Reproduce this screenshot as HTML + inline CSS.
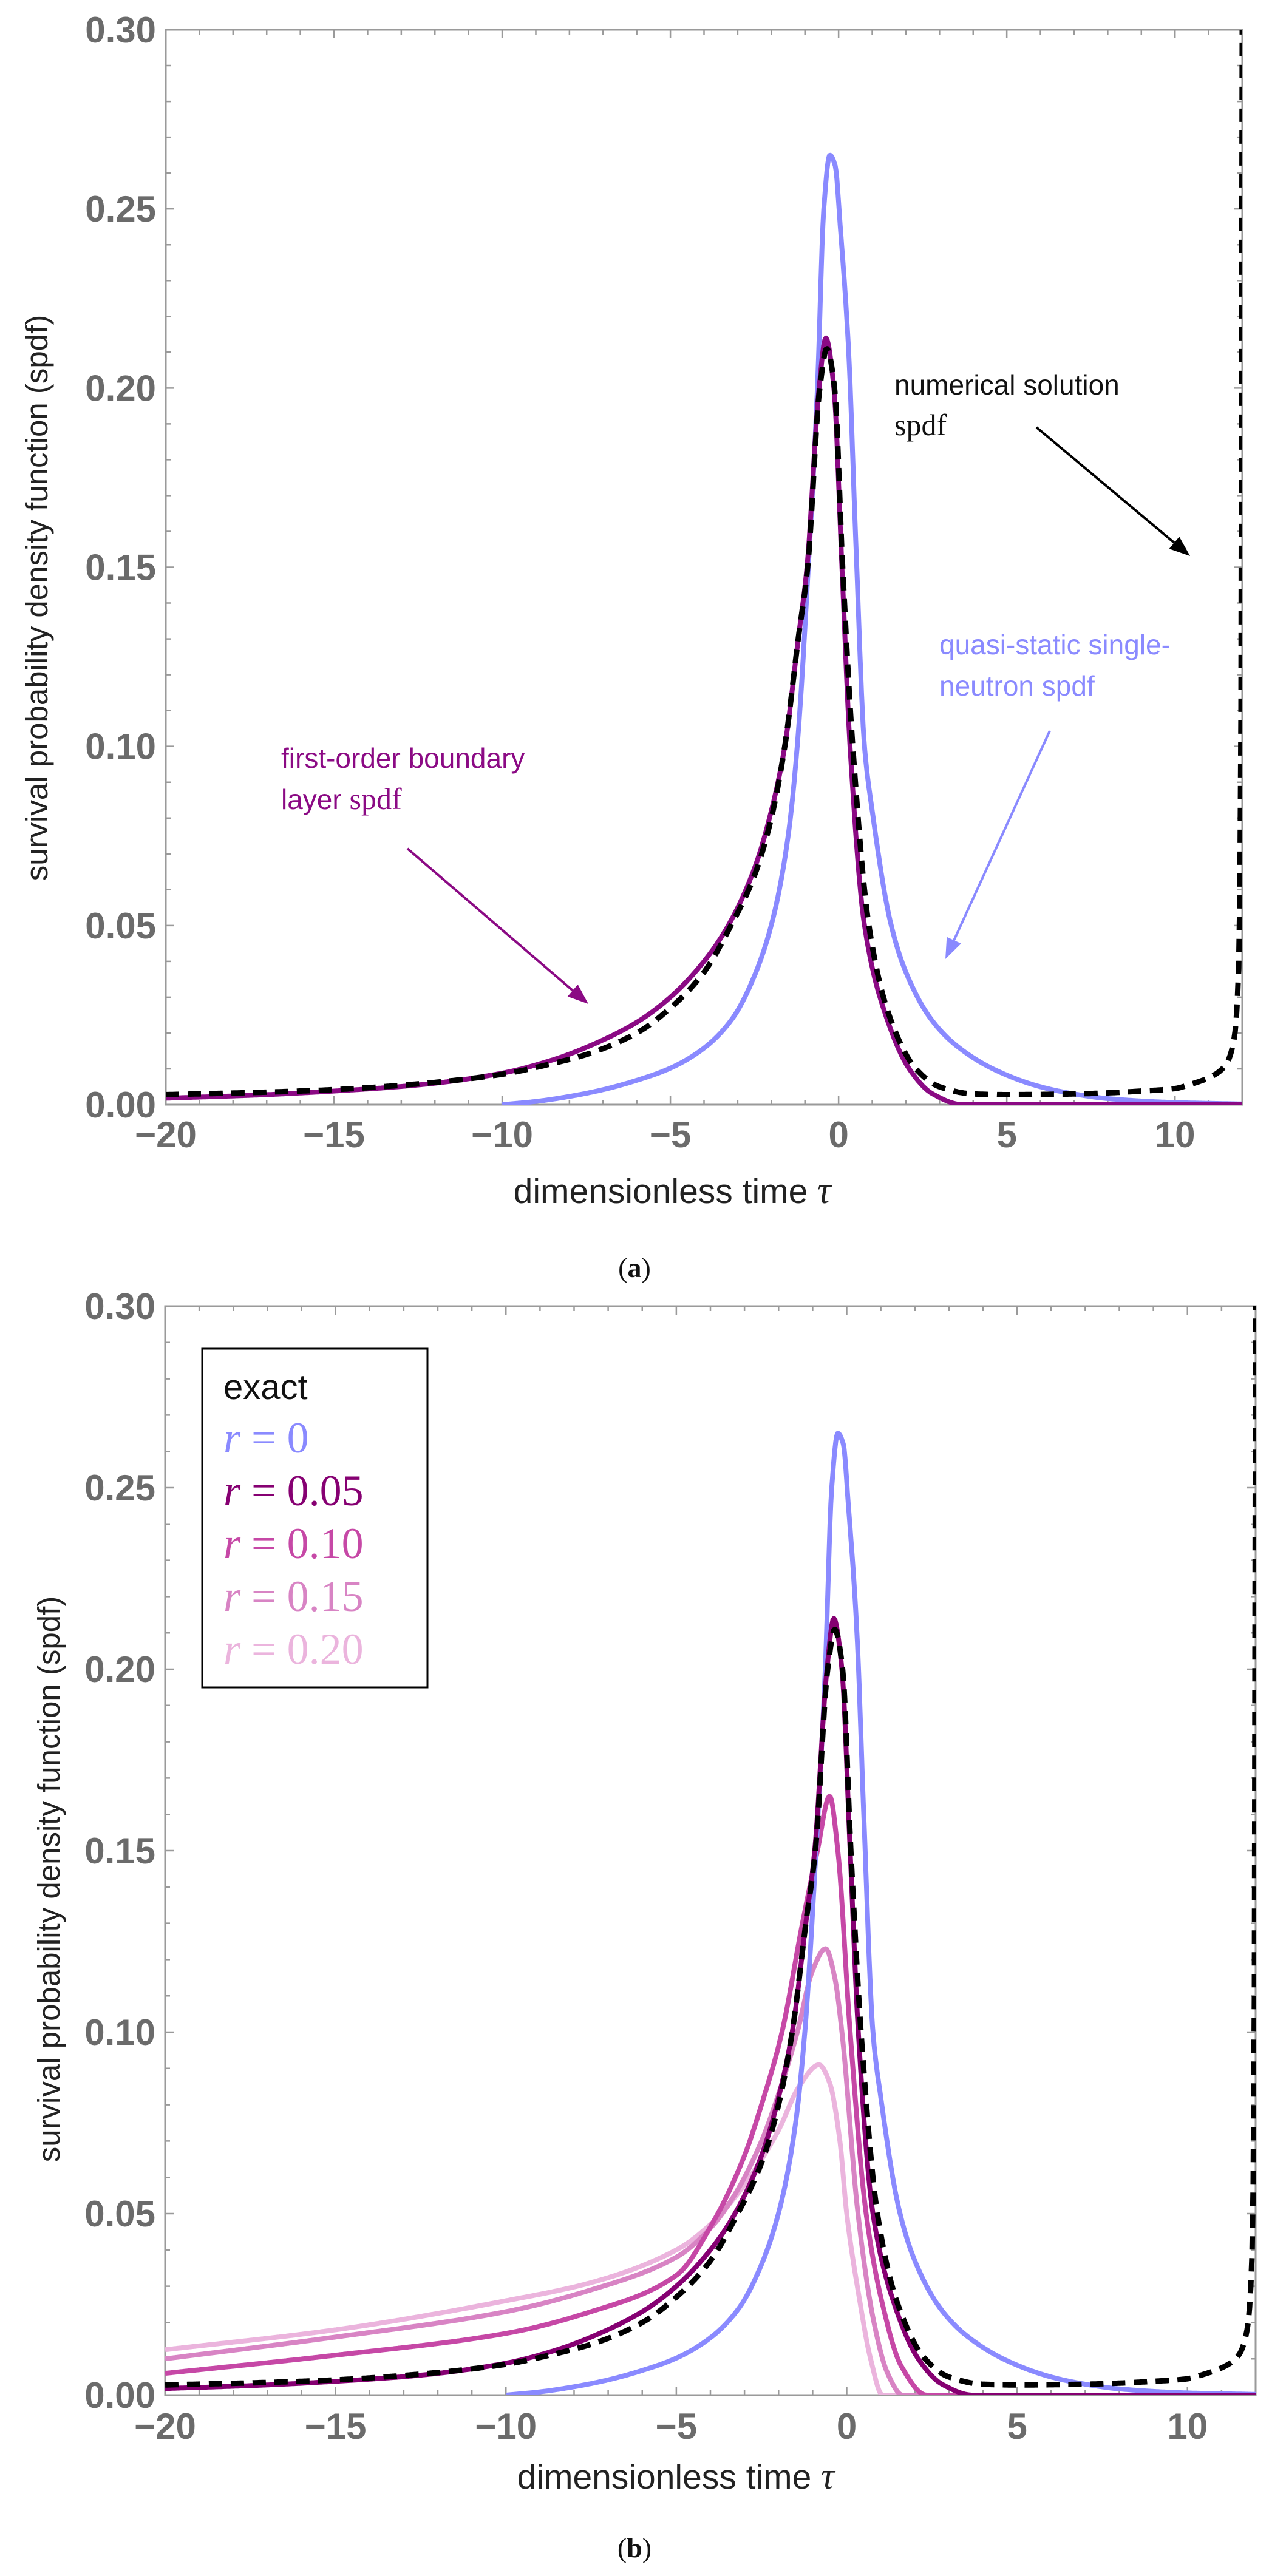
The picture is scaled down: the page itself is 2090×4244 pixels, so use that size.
<!DOCTYPE html>
<html><head><meta charset="utf-8"><style>
html,body{margin:0;padding:0;background:#fff;}
svg{display:block;}
</style></head><body>
<svg id="fig" width="2090" height="4244" viewBox="0 0 2090 4244" xmlns="http://www.w3.org/2000/svg">
<g id="panelA"></g>
<g id="panelB"></g>
</svg>
<script>
const xTicks=[-20,-15,-10,-5,0,5,10];
const yTicks=[0,0.05,0.10,0.15,0.20,0.25,0.30];
const yTickLabels=["0.00","0.05","0.10","0.15","0.20","0.25","0.30"];
const blueX=[-10,-9,-8,-7,-6,-5,-4,-3.16,-2.5,-1.95,-1.5,-1.23,-0.9,-0.63,-0.44,-0.26,-0.1,0.05,0.3,0.5,0.77,1.0,1.54,2,2.74,3.5,4.7,6,7,8,10,12];
const blueY=[0,0.0009,0.0023,0.0042,0.0068,0.0102,0.0158,0.024,0.036,0.052,0.075,0.10,0.15,0.20,0.25,0.265,0.262,0.245,0.21,0.16,0.10,0.082,0.051,0.037,0.024,0.0165,0.0095,0.005,0.003,0.0017,0.0006,0.0002];
const purpleX=[-20,-17,-15,-12.5,-10,-8.5,-7.5,-6,-5,-4,-3.28,-2.5,-2,-1.6,-1.2,-0.94,-0.58,-0.38,-0.14,0.1,0.34,0.77,1.4,2.1,2.8,3.7,6,12];
const purpleY=[0.0018,0.0028,0.0038,0.0055,0.0088,0.0125,0.016,0.023,0.030,0.040,0.05,0.066,0.082,0.10,0.13,0.15,0.20,0.214,0.20,0.15,0.10,0.05,0.025,0.01,0.003,0,0,0];
const blackX=[-20,-17,-15,-12.5,-10,-8.5,-7.5,-6,-5,-4,-3.2,-2.5,-2,-1.6,-1.2,-0.92,-0.56,-0.35,-0.12,0.12,0.42,0.9,1.5,2.3,3,4,5,7,8,9,10,10.5,11,11.5,11.75,11.9,11.96,12];
const blackY=[0.0028,0.0035,0.0042,0.0058,0.0085,0.0115,0.014,0.020,0.027,0.037,0.05,0.064,0.08,0.10,0.13,0.15,0.20,0.211,0.20,0.15,0.10,0.05,0.025,0.01,0.005,0.003,0.0028,0.003,0.0033,0.0038,0.0045,0.0058,0.0075,0.011,0.018,0.04,0.1,0.30];
const r10X=[-20,-15,-10,-7.5,-5,-3.9,-3,-2.5,-1.9,-1.3,-0.86,-0.5,-0.26,0.1,0.57,1.05,1.6,2.35,12];
const r10Y=[0.006,0.011,0.017,0.023,0.033,0.048,0.066,0.08,0.10,0.13,0.15,0.165,0.15,0.10,0.05,0.025,0.008,0,0];
const r15X=[-20,-15,-10,-7.5,-5,-4,-3.3,-2.5,-2,-1.45,-1,-0.62,-0.35,-0.14,0.33,0.8,1.2,1.64,12];
const r15Y=[0.010,0.016,0.023,0.029,0.038,0.046,0.055,0.07,0.083,0.10,0.117,0.123,0.115,0.10,0.05,0.02,0.006,0,0];
const r20X=[-20,-15,-10,-7.5,-5,-4,-3,-2,-1.4,-0.81,-0.5,-0.2,0,0.4,0.7,1.05,12];
const r20Y=[0.0125,0.018,0.026,0.031,0.040,0.047,0.058,0.073,0.085,0.091,0.086,0.07,0.05,0.025,0.01,0,0];

const NS="http://www.w3.org/2000/svg";
function mk(tag,attrs,parent){const e=document.createElementNS(NS,tag);for(const k in attrs)e.setAttribute(k,attrs[k]);if(parent)parent.appendChild(e);return e;}

function monotone(xs,ys){
  const n=xs.length,d=[],m=new Array(n);
  for(let i=0;i<n-1;i++)d.push((ys[i+1]-ys[i])/(xs[i+1]-xs[i]));
  m[0]=d[0];m[n-1]=d[n-2];
  for(let i=1;i<n-1;i++){ if(d[i-1]*d[i]<=0)m[i]=0; else { const w1=2*(xs[i+1]-xs[i])+(xs[i]-xs[i-1]),w2=(xs[i+1]-xs[i])+2*(xs[i]-xs[i-1]); m[i]=(w1+w2)/(w1/d[i-1]+w2/d[i]); } }
  return function(x){
    let i=0;while(i<n-2&&x>xs[i+1])i++;
    const h=xs[i+1]-xs[i],t=(x-xs[i])/h,t2=t*t,t3=t2*t;
    return (2*t3-3*t2+1)*ys[i]+(t3-2*t2+t)*h*m[i]+(-2*t3+3*t2)*ys[i+1]+(t3-t2)*h*m[i+1];
  };
}

function panel(g,P,key){
  const sx=v=>P.L+(v+20)/32*(P.R-P.L);
  const sy=v=>P.B-v/0.30*(P.B-P.T);
  const clipId='clip'+key;
  const defs=mk('defs',{},g);const cp=mk('clipPath',{id:clipId},defs);
  mk('rect',{x:P.L,y:P.T-2,width:P.R-P.L,height:P.B-P.T+2},cp);
  const frame=mk('rect',{x:P.L,y:P.T,width:P.R-P.L,height:P.B-P.T,fill:'none',stroke:'#9a9a9a','stroke-width':3},g);
  
  
  let tp='';
  for(let v=-20;v<=12;v++){const x=sx(v);const len=(v%5===0)?14:8;tp+=`M${x},${P.B}v${-len}M${x},${P.T}v${len}`;}
  for(let k=0;k<=30;k++){const y=sy(k/100);const len=(k%5===0)?14:8;tp+=`M${P.L},${y}h${len}M${P.R},${y}h${-len}`;}
  const ticks=mk('path',{d:tp,stroke:'#9a9a9a','stroke-width':2.5,fill:'none'},g);
  
  
  xTicks.forEach(v=>{const t=mk('text',{x:sx(v),y:P.xl,'text-anchor':'middle','font-family':'Liberation Sans, sans-serif','font-weight':'bold','font-size':60,fill:'#6b6b6b'},g);t.textContent=(v<0?'\u2212'+(-v):''+v);
    
    });
  yTicks.forEach((v,i)=>{const t=mk('text',{x:P.L-16,y:sy(v)+21,'text-anchor':'end','font-family':'Liberation Sans, sans-serif','font-weight':'bold','font-size':60,fill:'#6b6b6b'},g);t.textContent=yTickLabels[i];
    
    });
  const xt=mk('text',{x:P.xtx,y:P.xty,'text-anchor':'middle','font-family':'Liberation Sans, sans-serif','font-size':57,fill:'#222'},g);
  xt.innerHTML='dimensionless time <tspan font-family="Liberation Serif, serif" font-style="italic" font-size="62">τ</tspan>';
  
  
  const yt=mk('text',{x:0,y:0,transform:`translate(${P.ytx},${P.yty}) rotate(-90)`,'text-anchor':'middle','font-family':'Liberation Sans, sans-serif','font-size':51,fill:'#222'},g);
  yt.textContent='survival probability density function (spdf)';
  
  
  const cap=mk('text',{x:1045,y:P.capy,'text-anchor':'middle','font-family':'Liberation Serif, serif','font-size':46,fill:'#111'},g);
  cap.innerHTML='(<tspan font-weight="bold">'+key+'</tspan>)';
  
  
  const cg=mk('g',{'clip-path':`url(#${clipId})`},g);
  function series(xs,ys,color,name,dash){
    const f=monotone(xs,ys);const x0=xs[0],x1=xs[xs.length-1];const N=900;let d='';
    for(let i=0;i<=N;i++){const x=x0+(x1-x0)*i/N;d+=(i?'L':'M')+sx(x).toFixed(1)+','+sy(Math.max(-0.002,f(x))).toFixed(1);}
    const p=mk('path',{d:d,fill:'none',stroke:color,'stroke-width':dash?9:8,'stroke-linejoin':'round'},cg);
    if(dash)p.setAttribute('stroke-dasharray','22 14');
    
    
  }
  return {series,sx,sy};
}

const gA=document.getElementById('panelA');
const A=panel(gA,{L:273,R:2046,T:49,B:1820,xl:1890,xtx:1107,xty:1982,ytx:78,yty:985,capy:2104},'a');
A.series(blueX,blueY,'#8a8aff','quasi-static-curve');
A.series(purpleX,purpleY,'#8b0a84','boundary-layer-curve');
A.series(blackX,blackY,'#000','numerical-solution-curve',true);
function ann(g,lines,x,y,color,name){
  const t=mk('text',{x:x,y:y,'font-family':'Liberation Sans, sans-serif','font-size':46,fill:color},g);
  t.innerHTML=lines;
  
  
}
function arrow(g,x1,y1,x2,y2,color,name){
  const ang=Math.atan2(y2-y1,x2-x1),L=34,W=13;
  const bx=x2-L*Math.cos(ang),by=y2-L*Math.sin(ang);
  const a=mk('g',{},g);
  
  
  mk('line',{x1:x1,y1:y1,x2:bx,y2:by,stroke:color,'stroke-width':4},a);
  mk('polygon',{points:`${x2},${y2} ${bx-W*Math.sin(ang)},${by+W*Math.cos(ang)} ${bx+W*Math.sin(ang)},${by-W*Math.cos(ang)}`,fill:color},a);
}
ann(gA,'numerical solution<tspan x="1473" dy="67" font-family="Liberation Serif, serif" font-size="50">spdf</tspan>',1473,650,'#111','numerical-solution-label');
arrow(gA,1707,704,1960,916,'#000','numerical-solution-arrow');
ann(gA,'quasi-static single-<tspan x="1547" dy="68">neutron spdf</tspan>',1547,1078,'#8a8aff','quasi-static-label');
arrow(gA,1729,1204,1557,1580,'#8a8aff','quasi-static-arrow');
ann(gA,'first-order boundary<tspan x="463" dy="68" >layer </tspan><tspan font-family="Liberation Serif, serif" font-size="50">spdf</tspan>',463,1265,'#8b0a84','boundary-layer-label');
arrow(gA,671,1398,969,1654,'#8b0a84','boundary-layer-arrow');

const gB=document.getElementById('panelB');
const B=panel(gB,{L:272,R:2068,T:2152,B:3946,xl:4018,xtx:1113,xty:4100,ytx:98,yty:3096,capy:4213},'b');
B.series(r20X,r20Y,'#ebb4dd','r-0.20-curve');
B.series(r15X,r15Y,'#d884c4','r-0.15-curve');
B.series(r10X,r10Y,'#c648a6','r-0.10-curve');
B.series(blueX,blueY,'#8a8aff','r-0-curve');
B.series(purpleX,purpleY,'#860072','r-0.05-curve');
B.series(blackX,blackY,'#000','exact-curve',true);
const lg=mk('g',{},gB);


mk('rect',{x:333,y:2222,width:371,height:558,fill:'#fff',stroke:'#000','stroke-width':3},lg);
const le=mk('text',{x:368,y:2305,'font-family':'Liberation Sans, sans-serif','font-size':58,fill:'#111'},lg);
le.textContent='exact';


const legLabels=['0','0.05','0.10','0.15','0.20'];
const legColors=['#8a8aff','#860072','#c648a6','#d884c4','#ebb4dd'];
legLabels.forEach((lab,i)=>{
  const t=mk('text',{x:368,y:2393+i*87,'font-family':'Liberation Serif, serif','font-size':72,fill:legColors[i]},lg);
  t.innerHTML='<tspan font-style="italic">r</tspan> = '+lab;
  
  
});
</script>
</body></html>
